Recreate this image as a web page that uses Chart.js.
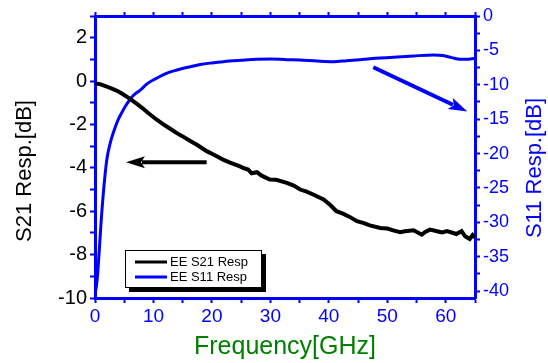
<!DOCTYPE html>
<html>
<head>
<meta charset="utf-8">
<script src="https://cdn.jsdelivr.net/npm/chart.js@4"></script>
<style>
html, body { margin: 0; padding: 0; background: #fff; }
</style>
</head>
<body>
<canvas id="myChart" width="548" height="363"></canvas>
<script>
// S21 (left axis, black)
const s21Freq = [0, 1, 2, 3, 4, 4.8, 6, 7, 8, 9, 10.5, 12, 13, 14, 15, 16.3, 17.5, 19.1, 20.5, 21.9, 23, 24.8, 25.5, 26.2, 26.8, 27.7, 28.5, 29.9, 31, 32.8, 34, 35.1, 36.2, 37.5, 39.1, 40.2, 41.3, 42.5, 43.5, 44.8, 46, 47, 48.8, 50, 51, 52.2, 53, 54.5, 55.2, 55.9, 56.5, 57.3, 58.5, 59.4, 60.2, 61, 61.8, 62.7, 63.3, 64.1, 64.6, 65];
const s21Resp = [-0.1, -0.15, -0.25, -0.36, -0.48, -0.61, -0.82, -1.02, -1.22, -1.45, -1.77, -2.05, -2.22, -2.4, -2.55, -2.76, -2.95, -3.23, -3.42, -3.62, -3.75, -3.93, -4.02, -4.08, -4.25, -4.2, -4.36, -4.54, -4.55, -4.69, -4.82, -5.0, -5.1, -5.25, -5.46, -5.7, -6.0, -6.12, -6.25, -6.46, -6.55, -6.65, -6.77, -6.8, -6.88, -6.97, -6.92, -6.88, -6.98, -7.08, -6.95, -6.85, -6.92, -6.98, -6.92, -6.98, -7.05, -6.92, -7.15, -7.28, -7.1, -7.2];

// S11 (right axis, blue)
const s11Freq = [0.05, 0.2, 0.4, 0.7, 1.0, 1.4, 2.0, 2.6, 3.2, 4.0, 4.8, 5.6, 6.5, 7.7, 9, 10.5, 12, 14, 16.3, 18, 20, 22, 25, 27.7, 30, 32.8, 35, 38, 40.8, 43, 45.9, 48, 51, 54.5, 57.9, 59.5, 61, 62.4, 63.5, 65];
const s11Resp = [-40, -39.5, -38, -34.5, -30.5, -26, -21, -18.5, -16.8, -15, -13.7, -12.6, -11.6, -10.8, -9.8, -9.06, -8.4, -7.85, -7.37, -7.05, -6.82, -6.64, -6.45, -6.3, -6.25, -6.35, -6.4, -6.55, -6.64, -6.5, -6.3, -6.15, -6.0, -5.81, -5.67, -5.75, -6.05, -6.3, -6.3, -6.15];

const seriesNames = ['EE S21 Resp', 'EE S11 Resp'];
const seriesColors = ['#000000', '#0000ff'];

// axis ranges and tick marks (labelled ones + minor ones)
const freqRange = [0, 65];
const s21Range = [-10, 3];
const s11Range = [-41, 0];
const freqTicks = [0, 5, 10, 15, 20, 25, 30, 35, 40, 45, 50, 55, 60, 65];
const freqLabels = [0, 10, 20, 30, 40, 50, 60];
const s21Ticks = [-10, -9, -8, -7, -6, -5, -4, -3, -2, -1, 0, 1, 2, 3];
const s21Labels = [-10, -8, -6, -4, -2, 0, 2];
const s11Ticks = [-40, -37.5, -35, -32.5, -30, -27.5, -25, -22.5, -20, -17.5, -15, -12.5, -10, -7.5, -5, -2.5, 0];
const s11Labels = [-40, -35, -30, -25, -20, -15, -10, -5, 0];

// arrows in data coordinates [freq, dB]
const arrowS21 = { axis: 'y', from: [19.1, -3.74], to: [5.3, -3.74] };
const arrowS11 = { axis: 'y2', from: [47.6, -7.46], to: [63.7, -13.9] };

const BLUE = '#0000ff';
const FONT = 'Arial, "Liberation Sans", sans-serif';

const pts = (xs, ys) => xs.map((x, i) => ({ x: x, y: ys[i] }));
const useTicks = list => (s => { s.ticks = list.map(v => ({ value: v })); });
const labelIf = list => (v => (list.includes(v) ? v : ''));

const tickGrid = {
  display: true,
  drawOnChartArea: false,
  drawTicks: true,
  tickLength: 5,
  tickColor: BLUE,
  tickWidth: 2,
  color: BLUE
};

// arrows, legend box, y titles
const extras = {
  id: 'extras',
  afterDatasetsDraw(chart) {
    const c = chart.ctx;
    const xs = chart.scales.x;
    const drawArrow = (a, color) => {
      const ys = chart.scales[a.axis];
      const x1 = xs.getPixelForValue(a.from[0]), y1 = ys.getPixelForValue(a.from[1]);
      const x2 = xs.getPixelForValue(a.to[0]), y2 = ys.getPixelForValue(a.to[1]);
      const ang = Math.atan2(y2 - y1, x2 - x1);
      const hl = 19, hw = 6;
      const bx = x2 - hl * Math.cos(ang), by = y2 - hl * Math.sin(ang);
      c.save();
      c.strokeStyle = color; c.fillStyle = color; c.lineWidth = 4;
      c.beginPath(); c.moveTo(x1, y1); c.lineTo(bx + 3 * Math.cos(ang), by + 3 * Math.sin(ang)); c.stroke();
      c.beginPath();
      c.moveTo(x2, y2);
      c.lineTo(bx - hw * Math.sin(ang), by + hw * Math.cos(ang));
      c.lineTo(bx + 4 * Math.cos(ang), by + 4 * Math.sin(ang));
      c.lineTo(bx + hw * Math.sin(ang), by - hw * Math.cos(ang));
      c.closePath(); c.fill();
      c.restore();
    };
    drawArrow(arrowS21, '#000');
    drawArrow(arrowS11, BLUE);

    // legend
    c.save();
    c.fillStyle = '#000';
    c.fillRect(129, 254, 137, 38);
    c.fillStyle = '#fff';
    c.fillRect(125, 250, 137, 38);
    c.strokeStyle = '#000'; c.lineWidth = 1;
    c.strokeRect(125.5, 250.5, 136, 37);
    c.font = '13px ' + FONT;
    c.textBaseline = 'middle';
    seriesNames.forEach((n, i) => {
      const y = 262 + i * 15;
      c.strokeStyle = seriesColors[i]; c.lineWidth = 3;
      c.beginPath(); c.moveTo(135, y); c.lineTo(167, y); c.stroke();
      c.fillStyle = '#000';
      c.fillText(n, 170, y + 0.5);
    });
    c.restore();

    // y titles (both read bottom to top)
    c.save();
    c.font = '22px ' + FONT;
    c.textAlign = 'center'; c.textBaseline = 'middle';
    c.translate(25, 171); c.rotate(-Math.PI / 2);
    c.fillStyle = '#000'; c.fillText('S21 Resp.[dB]', 0, 0);
    c.restore();
    c.save();
    c.font = '22px ' + FONT;
    c.textAlign = 'center'; c.textBaseline = 'middle';
    c.translate(535, 168); c.rotate(-Math.PI / 2);
    c.fillStyle = BLUE; c.fillText('S11 Resp.[dB]', 0, 0);
    c.restore();
  }
};

const ctx = document.getElementById('myChart');
const grafico = new Chart(ctx, {
  type: 'line',
  data: {
    datasets: [{
      label: seriesNames[0],
      data: pts(s21Freq, s21Resp),
      borderColor: seriesColors[0],
      borderWidth: 4,
      pointRadius: 0,
      yAxisID: 'y'
    }, {
      label: seriesNames[1],
      data: pts(s11Freq, s11Resp),
      borderColor: seriesColors[1],
      borderWidth: 3,
      pointRadius: 0,
      cubicInterpolationMode: 'monotone',
      yAxisID: 'y2'
    }]
  },
  options: {
    responsive: false,
    animation: false,
    devicePixelRatio: 1,
    layout: { padding: 0 },
    plugins: { legend: { display: false }, tooltip: { enabled: false } },
    scales: {
      x: {
        type: 'linear', position: 'bottom',
        min: freqRange[0], max: freqRange[1],
        afterFit: s => { s.height = 65; },
        afterBuildTicks: useTicks(freqTicks),
        ticks: {
          autoSkip: false, maxRotation: 0, padding: 2,
          color: BLUE, font: { family: FONT, size: 19 },
          callback: labelIf(freqLabels)
        },
        grid: tickGrid,
        border: { color: BLUE, width: 3 },
        title: {
          display: true, text: 'Frequency[GHz]', color: '#008000',
          font: { family: FONT, size: 25 }, padding: { top: 0, bottom: 1 }
        }
      },
      x2: {
        type: 'linear', position: 'top',
        min: freqRange[0], max: freqRange[1],
        afterFit: s => { s.height = 16; },
        afterBuildTicks: useTicks(freqTicks),
        ticks: { display: false, autoSkip: false },
        grid: Object.assign({}, tickGrid, { tickLength: 4 }),
        border: { color: BLUE, width: 3 }
      },
      y: {
        type: 'linear', position: 'left',
        min: s21Range[0], max: s21Range[1],
        afterFit: s => { s.width = 95; },
        afterBuildTicks: useTicks(s21Ticks),
        ticks: {
          autoSkip: false, padding: 3,
          color: '#000', font: { family: FONT, size: 20 },
          callback: labelIf(s21Labels)
        },
        grid: tickGrid,
        border: { color: BLUE, width: 3 }
      },
      y2: {
        type: 'linear', position: 'right',
        min: s11Range[0], max: s11Range[1],
        afterFit: s => { s.width = 73; },
        afterBuildTicks: useTicks(s11Ticks),
        ticks: {
          autoSkip: false, padding: 3,
          color: BLUE, font: { family: FONT, size: 18 },
          callback: labelIf(s11Labels)
        },
        grid: tickGrid,
        border: { color: BLUE, width: 3 }
      }
    }
  },
  plugins: [extras]
});
</script>
</body>
</html>
